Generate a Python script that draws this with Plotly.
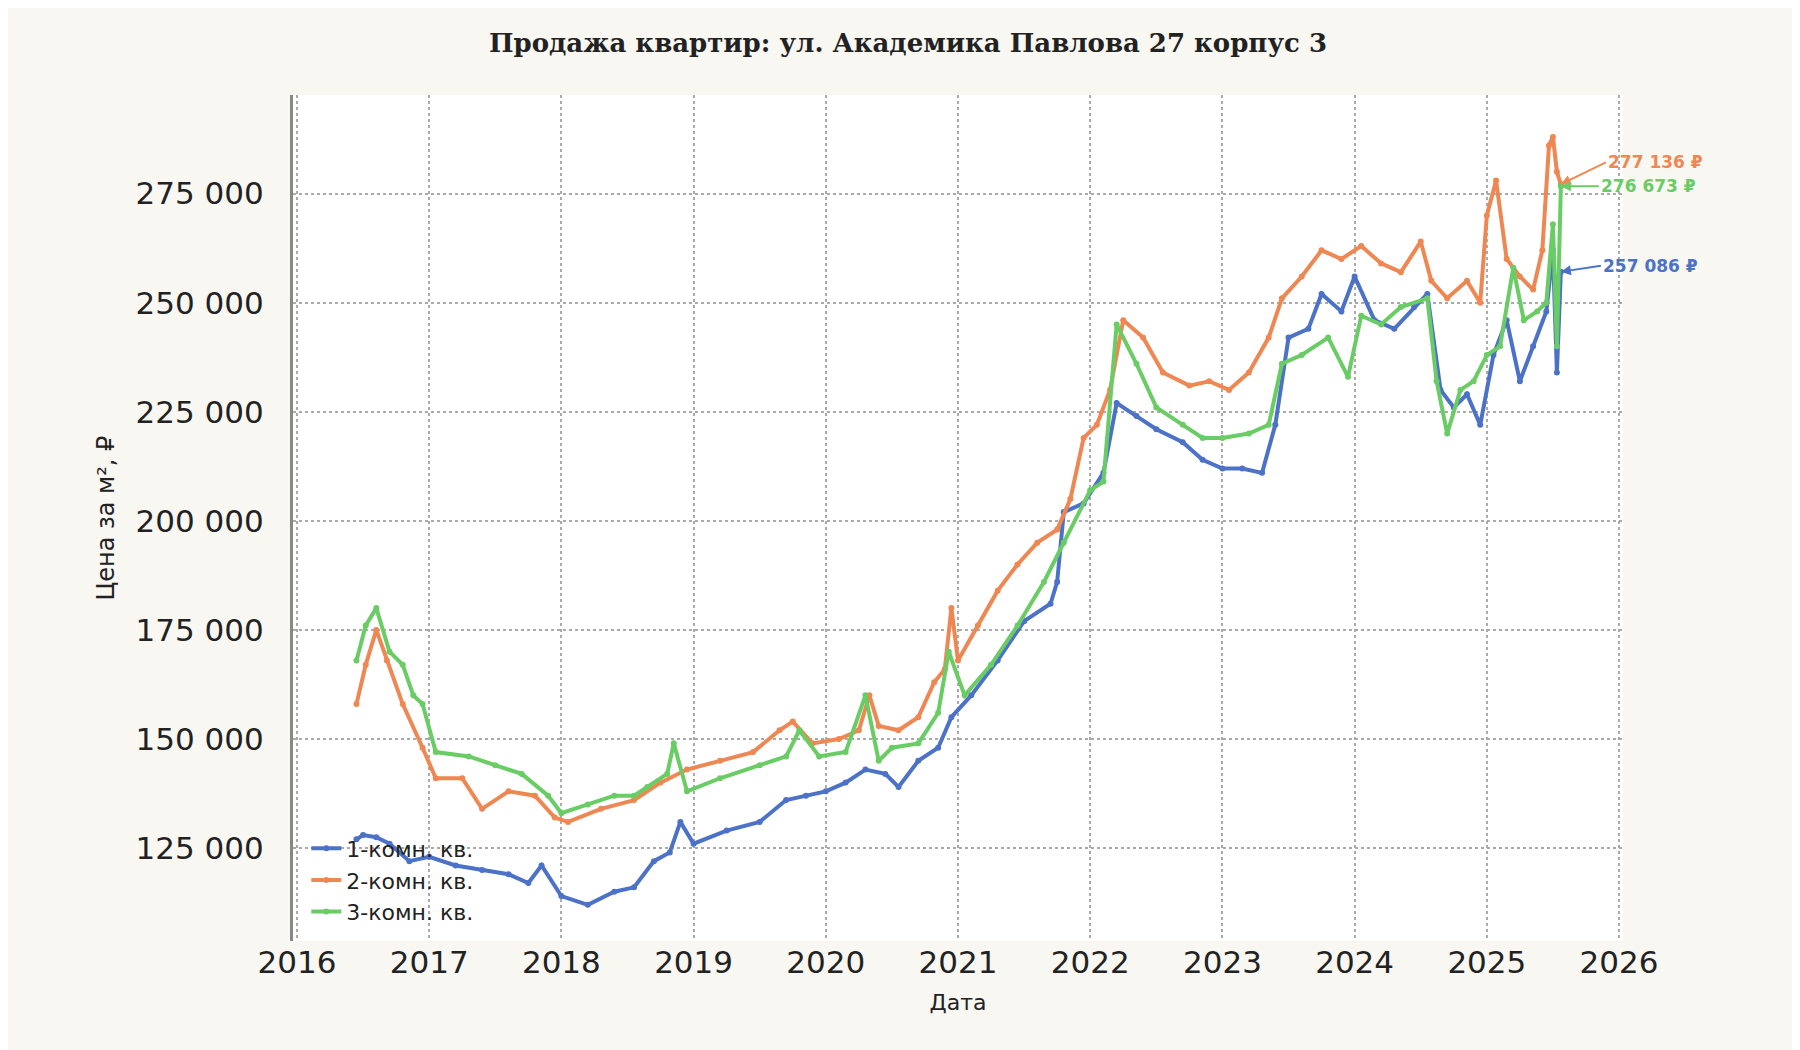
import plotly.graph_objects as go

# decimal years and price per m2
x1 = [2016.45, 2016.5, 2016.6, 2016.7, 2016.85, 2017.0, 2017.2, 2017.4, 2017.6, 2017.75, 2017.85, 2018.0,
      2018.2, 2018.4, 2018.55, 2018.7, 2018.82, 2018.9, 2019.0, 2019.25, 2019.5, 2019.7, 2019.85, 2020.0,
      2020.15, 2020.3, 2020.45, 2020.55, 2020.7, 2020.85, 2020.95, 2021.1, 2021.3, 2021.5, 2021.7, 2021.75,
      2021.8, 2021.95, 2022.1, 2022.2, 2022.35, 2022.5, 2022.7, 2022.85, 2023.0, 2023.15, 2023.3, 2023.4,
      2023.5, 2023.65, 2023.75, 2023.9, 2024.0, 2024.15, 2024.3, 2024.45, 2024.55, 2024.65, 2024.75, 2024.85,
      2024.95, 2025.05, 2025.15, 2025.25, 2025.35, 2025.45, 2025.5, 2025.53, 2025.56]
y1 = [127000, 128000, 127500, 126000, 122000, 123000, 121000, 120000, 119000, 117000, 121000, 114000,
      112000, 115000, 116000, 122000, 124000, 131000, 126000, 129000, 131000, 136000, 137000, 138000,
      140000, 143000, 142000, 139000, 145000, 148000, 155000, 160000, 168000, 177000, 181000, 186000,
      202000, 204000, 211000, 227000, 224000, 221000, 218000, 214000, 212000, 212000, 211000, 222000,
      242000, 244000, 252000, 248000, 256000, 246000, 244000, 249000, 252000, 230000, 226000, 229000,
      222000, 238000, 246000, 232000, 240000, 248000, 262000, 234000, 257086]

x2 = [2016.45, 2016.52, 2016.6, 2016.68, 2016.8, 2016.95, 2017.05, 2017.25, 2017.4, 2017.6, 2017.8, 2017.95,
      2018.05, 2018.3, 2018.55, 2018.75, 2018.95, 2019.2, 2019.45, 2019.65, 2019.75, 2019.9, 2020.1, 2020.25,
      2020.33, 2020.4, 2020.55, 2020.7, 2020.82, 2020.9, 2020.95, 2021.0, 2021.15, 2021.3, 2021.45, 2021.6,
      2021.75, 2021.85, 2021.95, 2022.05, 2022.15, 2022.25, 2022.4, 2022.55, 2022.75, 2022.9, 2023.05, 2023.2,
      2023.35, 2023.45, 2023.6, 2023.75, 2023.9, 2024.05, 2024.2, 2024.35, 2024.5, 2024.58, 2024.7, 2024.85,
      2024.95, 2025.0, 2025.07, 2025.15, 2025.25, 2025.35, 2025.42, 2025.47, 2025.5, 2025.53, 2025.56]
y2 = [158000, 167000, 175000, 168000, 158000, 148000, 141000, 141000, 134000, 138000, 137000, 132000,
      131000, 134000, 136000, 140000, 143000, 145000, 147000, 152000, 154000, 149000, 150000, 152000,
      160000, 153000, 152000, 155000, 163000, 166000, 180000, 168000, 176000, 184000, 190000, 195000,
      198000, 205000, 219000, 222000, 230000, 246000, 242000, 234000, 231000, 232000, 230000, 234000,
      242000, 251000, 256000, 262000, 260000, 263000, 259000, 257000, 264000, 255000, 251000, 255000,
      250000, 270000, 278000, 260000, 256000, 253000, 262000, 286000, 288000, 280000, 277136]

x3 = [2016.45, 2016.52, 2016.6, 2016.7, 2016.8, 2016.88, 2016.95, 2017.05, 2017.3, 2017.5, 2017.7, 2017.9,
      2018.0, 2018.2, 2018.4, 2018.55, 2018.65, 2018.8, 2018.85, 2018.95, 2019.2, 2019.5, 2019.7, 2019.8,
      2019.95, 2020.15, 2020.3, 2020.4, 2020.5, 2020.7, 2020.85, 2020.93, 2021.05, 2021.25, 2021.45, 2021.65,
      2021.8, 2022.0, 2022.1, 2022.2, 2022.35, 2022.5, 2022.7, 2022.85, 2023.0, 2023.2, 2023.35, 2023.45,
      2023.6, 2023.8, 2023.95, 2024.05, 2024.2, 2024.35, 2024.55, 2024.62, 2024.7, 2024.8, 2024.9, 2025.0,
      2025.1, 2025.2, 2025.28, 2025.38, 2025.45, 2025.5, 2025.53, 2025.56]
y3 = [168000, 176000, 180000, 170000, 167000, 160000, 158000, 147000, 146000, 144000, 142000, 137000,
      133000, 135000, 137000, 137000, 139000, 142000, 149000, 138000, 141000, 144000, 146000, 152000,
      146000, 147000, 160000, 145000, 148000, 149000, 156000, 170000, 160000, 167000, 176000, 186000,
      195000, 207000, 209000, 245000, 236000, 226000, 222000, 219000, 219000, 220000, 222000, 236000,
      238000, 242000, 233000, 247000, 245000, 249000, 251000, 232000, 220000, 230000, 232000, 238000,
      240000, 258000, 246000, 248000, 250000, 268000, 240000, 276673]

names = ["1-комн. кв.", "2-комн. кв.", "3-комн. кв."]
colors = ["#4c72c8", "#ee8752", "#6acc64"]
labels = ["257 086 ₽", "277 136 ₽", "276 673 ₽"]
offsets = [(40, -6), (45, -22), (38, 0)]

fig = go.Figure()
for xs, ys, n, c in zip([x1, x2, x3], [y1, y2, y3], names, colors):
    fig.add_trace(go.Scatter(x=xs, y=ys, name=n, mode="lines+markers",
                             line=dict(color=c, width=4), marker=dict(color=c, size=6)))

for xs, ys, c, t, (ax, ay) in zip([x1, x2, x3], [y1, y2, y3], colors, labels, offsets):
    fig.add_annotation(x=xs[-1], y=ys[-1], text="<b>" + t + "</b>", showarrow=True,
                       arrowhead=2, arrowsize=1, arrowwidth=2, arrowcolor=c,
                       ax=ax, ay=ay, xanchor="left", font=dict(color=c, size=17))

fig.update_layout(
    width=1800, height=1050,
    paper_bgcolor="#f8f7f2", plot_bgcolor="white",
    separators=", ",
    margin=dict(l=285, r=185, t=87, b=117),
    title=dict(text="<b>Продажа квартир: ул. Академика Павлова 27 корпус 3</b>", x=0.5,
               font=dict(family="DejaVu Serif", size=26, color="#222")),
    font=dict(family="DejaVu Sans", color="#222"),
    showlegend=True,
    legend=dict(x=0.01, y=0.01, xanchor="left", yanchor="bottom", bgcolor="rgba(0,0,0,0)",
                font=dict(size=22)),
)
fig.update_xaxes(range=[2015.97, 2026.03], tickvals=list(range(2016, 2027)), tickformat="d",
                 tickfont=dict(size=31), title=dict(text="Дата", font=dict(size=22)),
                 showgrid=True, gridcolor="#aaaaaa", griddash="dot", gridwidth=2, zeroline=False,
                 ticks="", showline=False)
fig.update_yaxes(range=[103700, 297600], tickvals=[125000, 150000, 175000, 200000, 225000, 250000, 275000],
                 tickformat=",d", tickfont=dict(size=31), title=dict(text="Цена за м², ₽", font=dict(size=24)),
                 showgrid=True, gridcolor="#aaaaaa", griddash="dot", gridwidth=2, zeroline=False,
                 showline=True, linecolor="#888888", linewidth=3, ticks="", ticklabelstandoff=20)

fig.write_html("out.html")
